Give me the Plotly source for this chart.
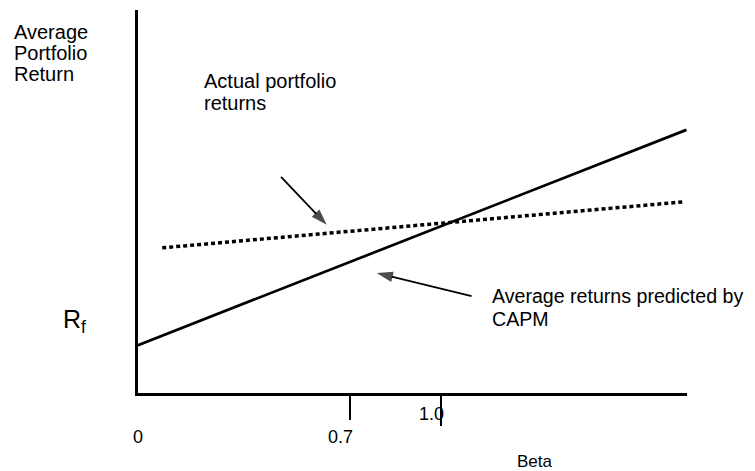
import plotly.graph_objects as go

# ---- data ----
capm_beta = [0.0, 1.81]
capm_return = [1.25, 6.87]
actual_beta = [0.08, 1.80]
actual_return = [3.79, 4.99]
tick_values = [0.7, 1.0]
tick_labels = ["0.7", "1.0"]
origin_label = "0"
x_range = [0, 1.812]
y_range = [0, 10]
arrow_actual_beta = [0.472, 0.623]
arrow_actual_return = [5.64, 4.39]
arrow_capm_beta = [1.101, 0.788]
arrow_capm_return = [2.53, 3.13]

FONT = "Liberation Sans, Arial, Helvetica, sans-serif"

fig = go.Figure()
fig.add_trace(go.Scatter(x=capm_beta, y=capm_return, mode="lines",
                         line=dict(color="black", width=2.7),
                         showlegend=False, hoverinfo="skip"))
fig.add_trace(go.Scatter(x=actual_beta, y=actual_return, mode="lines",
                         line=dict(color="black", width=3.5, dash="4px,3px"),
                         showlegend=False, hoverinfo="skip"))
for ab, ar in [(arrow_actual_beta, arrow_actual_return),
               (arrow_capm_beta, arrow_capm_return)]:
    fig.add_trace(go.Scatter(x=ab, y=ar, mode="lines+markers",
                             line=dict(color="black", width=1.8),
                             marker=dict(symbol="arrow", size=[0, 17],
                                         angleref="previous", color="black",
                                         line=dict(width=0)),
                             showlegend=False, hoverinfo="skip",
                             cliponaxis=False))

anns = []
def text(t, x, y, xref="paper", yref="paper", size=20, xanchor="left",
         xshift=0, yshift=0):
    anns.append(dict(text=t, x=x, y=y, xref=xref, yref=yref, showarrow=False,
                     xanchor=xanchor, yanchor="middle", xshift=xshift,
                     yshift=yshift, font=dict(family=FONT, size=size, color="black")))

# positions below are page pixels; plot area spans x 138..687, y 10..393
def px(xp):
    return (xp - 140) / 549.0
def py(yp):
    return (392 - yp) / 383.0

for i, line in enumerate(["Average", "Portfolio", "Return"]):
    text(line, px(14), py(31 + 21 * i))
for i, line in enumerate(["Actual portfolio", "returns"]):
    text(line, px(204), py(80 + 22 * i))
for i, line in enumerate(["Average returns predicted by", "CAPM"]):
    text(line, px(492), py(295 + 23 * i), size=19.6)

text("R<sub>f</sub>", px(76), py(320), size=25, xanchor="center")
text("Beta", px(537), py(460), size=17, xanchor="center")

text(origin_label, 0, 0, xref="x", yref="y", size=18, xanchor="center", yshift=-44)
text(tick_labels[0], tick_values[0], 0, xref="x", yref="y", size=18,
     xanchor="center", xshift=-10, yshift=-44)
text(tick_labels[1], tick_values[1], 0, xref="x", yref="y", size=18,
     xanchor="center", xshift=-9, yshift=-21)

fig.update_layout(
    width=747, height=463,
    margin=dict(l=130, r=68, t=2, b=78),
    paper_bgcolor="white", plot_bgcolor="white",
    annotations=anns,
    xaxis=dict(range=x_range, showgrid=False, zeroline=False, showline=True,
               linecolor="black", linewidth=2.5, tickmode="array",
               tickvals=[tick_values[0]], ticks="outside", ticklen=24,
               tickwidth=2, tickcolor="black", showticklabels=False,
               minor=dict(tickmode="array", tickvals=[tick_values[1]],
                          ticks="outside", ticklen=30, tickwidth=2,
                          tickcolor="black", showgrid=False)),
    yaxis=dict(range=y_range, showgrid=False, zeroline=False, showline=True,
               linecolor="black", linewidth=3, showticklabels=False, ticks=""),
)

fig.write_html("out.html")
